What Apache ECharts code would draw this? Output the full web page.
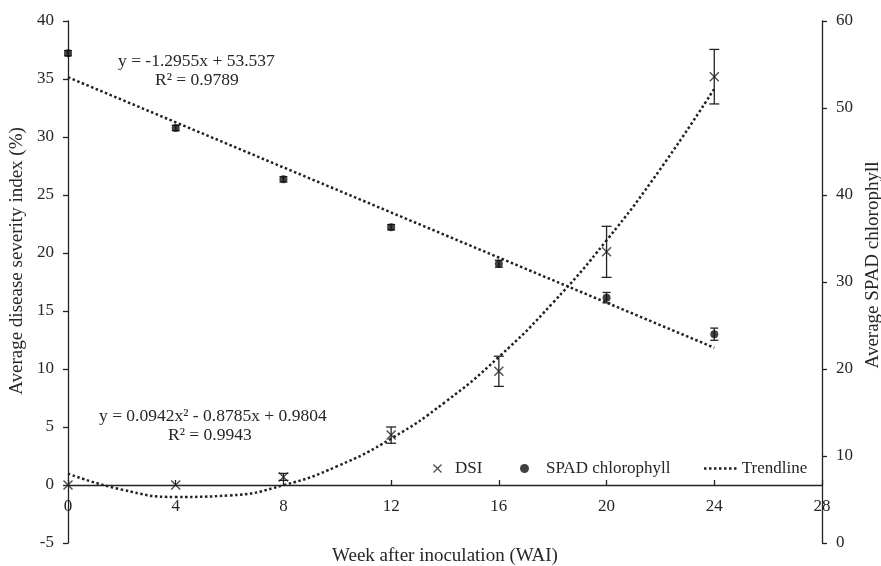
<!DOCTYPE html>
<html>
<head>
<meta charset="utf-8">
<script src="https://cdn.jsdelivr.net/npm/echarts@6/dist/echarts.min.js"></script>
<style>
html,body{margin:0;padding:0;background:#fff;}
#chart{width:881px;height:566px;}
</style>
</head>
<body>
<div id="chart"></div>
<script>
// ---- data ----
const weeks = [0, 4, 8, 12, 16, 20, 24];
const dsi = [0, 0, 0.7, 4.3, 9.8, 20.1, 35.2];
const dsiErr = [0, 0, 0.3, 0.7, 1.3, 2.2, 2.35];
const spad = [56.3, 47.7, 41.8, 36.3, 32.1, 28.2, 24.0];
const spadErr = [0.3, 0.3, 0.3, 0.3, 0.4, 0.6, 0.7];
// trendlines (values of the fitted equations printed on the chart)
const dsiTrendWeeks = [0, 2, 4, 6, 8, 10, 12, 14, 16, 18, 20, 22, 24];
const dsiTrend = [0.98, -0.40, -1.03, -0.90, -0.02, 1.62, 4.00, 7.14, 11.04, 15.69, 21.09, 27.25, 34.16];
const spadTrendWeeks = [0, 24];
const spadTrend = [53.537, 22.445];
const xTicks = [0, 4, 8, 12, 16, 20, 24, 28];
const leftTicks = [-5, 0, 5, 10, 15, 20, 25, 30, 35, 40];
const rightTicks = [0, 10, 20, 30, 40, 50, 60];
const eqSpad = ['y = -1.2955x + 53.537', 'R² = 0.9789'];
const eqDsi = ['y = 0.0942x² - 0.8785x + 0.9804', 'R² = 0.9943'];

const FONT = '"Liberation Serif", "Times New Roman", serif';
const TXT = '#262626';
const crossPath = 'path://M0,1L1,0L5,4L9,0L10,1L6,5L10,9L9,10L5,6L1,10L0,9L4,5Z';
const dotsPath = 'path://M0,0h2.5v2.5h-2.5zM5,0h2.5v2.5h-2.5zM10,0h2.5v2.5h-2.5zM15,0h2.5v2.5h-2.5zM20,0h2.5v2.5h-2.5zM25,0h2.5v2.5h-2.5zM30,0h2.5v2.5h-2.5z';

function errRender(capHalf) {
  return function (params, api) {
    const x = api.value(0), y = api.value(1), e = api.value(2);
    if (!e) return null;
    const t = api.coord([x, y + e]);
    const b = api.coord([x, y - e]);
    const st = { stroke: '#222', lineWidth: 1.3 };
    return {
      type: 'group',
      children: [
        { type: 'line', shape: { x1: t[0], y1: t[1], x2: b[0], y2: b[1] }, style: st },
        { type: 'line', shape: { x1: t[0] - capHalf, y1: t[1], x2: t[0] + capHalf, y2: t[1] }, style: st },
        { type: 'line', shape: { x1: b[0] - capHalf, y1: b[1], x2: b[0] + capHalf, y2: b[1] }, style: st }
      ]
    };
  };
}

const chart = echarts.init(document.getElementById('chart'));
const axisLine = { show: true, lineStyle: { color: '#222', width: 1.3 } };
const axisLabel = { color: TXT, fontFamily: FONT, fontSize: 17 };
const nameStyle = { color: TXT, fontFamily: FONT, fontSize: 19 };

const legendBase = {
  orient: 'horizontal', top: 455, itemHeight: 9,
  textStyle: { color: TXT, fontFamily: FONT, fontSize: 17 },
  selectedMode: false
};

chart.setOption({
  animation: false,
  backgroundColor: '#fff',
  grid: { left: 68, right: 59, top: 21, bottom: 23, containLabel: false, outerBoundsMode: 'none' },
  xAxis: {
    type: 'value', min: xTicks[0], max: xTicks[xTicks.length - 1], interval: 4,
    axisLine: Object.assign({ onZero: true, onZeroAxisIndex: 0 }, axisLine),
    axisTick: { show: true, inside: true, length: 5, lineStyle: { color: '#222', width: 1.3 } },
    axisLabel: Object.assign({ margin: -45 }, axisLabel),
    splitLine: { show: false },
    name: 'Week after inoculation (WAI)', nameLocation: 'middle', nameGap: 4,
    nameTextStyle: nameStyle
  },
  yAxis: [
    {
      type: 'value', min: leftTicks[0], max: leftTicks[leftTicks.length - 1], interval: 5,
      position: 'left',
      axisLine: axisLine,
      axisTick: { show: true, inside: false, length: 5, lineStyle: { color: '#222', width: 1.3 } },
      axisLabel: Object.assign({ margin: 14 }, axisLabel),
      splitLine: { show: false },
      name: 'Average disease severity index (%)', nameLocation: 'middle', nameGap: 37, nameRotate: 90,
      nameTextStyle: Object.assign({ padding: [0, 0, 0, 42] }, nameStyle)
    },
    {
      type: 'value', min: rightTicks[0], max: rightTicks[rightTicks.length - 1], interval: 10,
      position: 'right',
      axisLine: Object.assign({ onZero: false }, axisLine),
      axisTick: { show: true, inside: false, length: 5, lineStyle: { color: '#222', width: 1.3 } },
      axisLabel: Object.assign({ margin: 14 }, axisLabel),
      splitLine: { show: false },
      name: 'Average SPAD chlorophyll', nameLocation: 'middle', nameGap: 40, nameRotate: 90,
      nameTextStyle: Object.assign({ padding: [0, 0, 0, 34] }, nameStyle)
    }
  ],
  legend: [
    Object.assign({}, legendBase, { left: 428, itemWidth: 9, data: [{ name: 'DSI', icon: crossPath }],
      textStyle: Object.assign({}, legendBase.textStyle, { padding: [0, 0, 0, 8] }) }),
    Object.assign({}, legendBase, { left: 515, itemWidth: 9, data: [{ name: 'SPAD chlorophyll', icon: 'circle' }],
      textStyle: Object.assign({}, legendBase.textStyle, { padding: [0, 0, 0, 12] }) }),
    Object.assign({}, legendBase, { left: 699, itemWidth: 33, itemHeight: 2.5, data: [{ name: 'Trendline', icon: dotsPath }],
      itemStyle: { color: '#222' } })
  ],
  graphic: [
    { type: 'text', left: 118, top: 52, style: { text: eqSpad[0], font: '17.5px ' + FONT, fill: TXT } },
    { type: 'text', left: 155, top: 71, style: { text: eqSpad[1], font: '17.5px ' + FONT, fill: TXT } },
    { type: 'text', left: 99, top: 407, style: { text: eqDsi[0], font: '17.5px ' + FONT, fill: TXT } },
    { type: 'text', left: 168, top: 426, style: { text: eqDsi[1], font: '17.5px ' + FONT, fill: TXT } }
  ],
  series: [
    {
      name: 'Trendline', type: 'line', yAxisIndex: 1, symbol: 'none', smooth: false,
      data: spadTrendWeeks.map((w, i) => [w, spadTrend[i]]),
      lineStyle: { color: '#222', width: 2.5, type: [2.5, 2.5] }, itemStyle: { color: '#222' }, z: 2
    },
    {
      name: 'Trendline', type: 'line', yAxisIndex: 0, symbol: 'none', smooth: true,
      data: dsiTrendWeeks.map((w, i) => [w, dsiTrend[i]]),
      lineStyle: { color: '#222', width: 2.5, type: [2.5, 2.5] }, itemStyle: { color: '#222' }, z: 2
    },
    {
      name: 'DSI-err', type: 'custom', yAxisIndex: 0, renderItem: errRender(5),
      data: weeks.map((w, i) => [w, dsi[i], dsiErr[i]]), encode: { x: 0, y: 1 }, z: 3
    },
    {
      name: 'SPAD-err', type: 'custom', yAxisIndex: 1, renderItem: errRender(4),
      data: weeks.map((w, i) => [w, spad[i], spadErr[i]]), encode: { x: 0, y: 1 }, z: 3
    },
    {
      name: 'DSI', type: 'scatter', yAxisIndex: 0, symbol: crossPath, symbolSize: 10,
      itemStyle: { color: '#222' }, data: weeks.map((w, i) => [w, dsi[i]]), z: 4
    },
    {
      name: 'SPAD chlorophyll', type: 'scatter', yAxisIndex: 1, symbol: 'circle', symbolSize: 8,
      itemStyle: { color: '#111' }, data: weeks.map((w, i) => [w, spad[i]]), z: 4
    }
  ]
});
</script>
</body>
</html>
